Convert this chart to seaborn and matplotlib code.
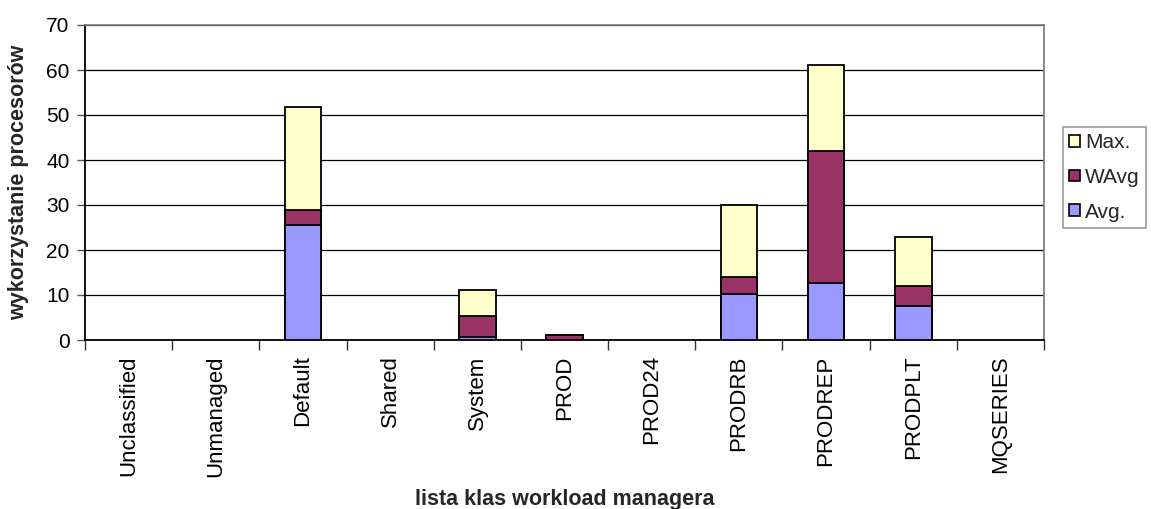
import matplotlib
matplotlib.use("Agg")
import matplotlib.pyplot as plt
import seaborn as sns
import pandas as pd
import numpy as np
from matplotlib.patches import Patch
from matplotlib.ticker import FixedLocator, NullFormatter

categories = ["Unclassified", "Unmanaged", "Default", "Shared", "System", "PROD",
              "PROD24", "PRODRB", "PRODREP", "PRODPLT", "MQSERIES"]
avg = [0, 0, 25.6, 0, 0.7, 0, 0, 10.3, 12.6, 7.6, 0]
wavg = [0, 0, 3.4, 0, 4.7, 1.2, 0, 3.8, 29.5, 4.3, 0]
maxv = [0, 0, 22.8, 0, 5.7, 0, 0, 15.8, 19.0, 11.1, 0]
colors = {"Avg.": "#9999FF", "WAvg": "#993366", "Max.": "#FFFFCC"}

sns.set_style("white")
plt.rcParams["font.family"] = ["Liberation Sans", "DejaVu Sans"]

df = pd.DataFrame({"cat": categories, "Avg.": avg, "WAvg": wavg, "Max.": maxv})
df["top_avg"] = df["Avg."]
df["top_wavg"] = df["Avg."] + df["WAvg"]
df["top_max"] = df["top_wavg"] + df["Max."]

W, H = 1151, 509
fig = plt.figure(figsize=(W / 100, H / 100), dpi=100)
L, R, T, B = 85, 1044, 25, 340
ax = fig.add_axes([L / W, 1 - B / H, (R - L) / W, (B - T) / H])

for col, name in [("top_max", "Max."), ("top_wavg", "WAvg"), ("top_avg", "Avg.")]:
    sns.barplot(data=df, x="cat", y=col, order=categories, color=colors[name],
                width=0.42, edgecolor="black", linewidth=1.3, ax=ax,
                saturation=1, errorbar=None, zorder=3)
for p in ax.patches:
    if p.get_height() <= 0:
        p.set_visible(False)

ax.set_ylim(0, 70)
ax.set_xlim(-0.5, len(categories) - 0.5)
ax.set_yticks(range(0, 71, 10))
ax.yaxis.grid(True, color="black", linewidth=0.9, zorder=0)
ax.set_axisbelow(True)

ax.tick_params(axis="y", labelsize=15, length=6, width=1, direction="out", left=True,
               pad=5, labelcolor="black", color="#555555")
ax.set_xticks(range(len(categories)))
ax.set_xticklabels(categories, rotation=90, fontsize=16)
ax.tick_params(axis="x", which="major", length=0, pad=11, labelcolor="black")
ax.xaxis.set_minor_locator(FixedLocator(np.arange(-0.5, len(categories), 1)))
ax.xaxis.set_minor_formatter(NullFormatter())
ax.tick_params(axis="x", which="minor", length=7, width=1, direction="out",
               bottom=True, color="#333333")

for s in ["left", "bottom"]:
    ax.spines[s].set_color("black")
    ax.spines[s].set_linewidth(1.3)
for s in ["top", "right"]:
    ax.spines[s].set_color("#808080")
    ax.spines[s].set_linewidth(1.3)

ax.set_xlabel("lista klas workload managera", fontsize=15.5, fontweight="bold")
ax.xaxis.set_label_coords(0.5, -(499 - B) / (B - T))
ax.xaxis.label.set_va("center")
ax.set_ylabel("wykorzystanie procesorów", fontsize=15.5, fontweight="bold")
ax.yaxis.set_label_coords(-(L - 18.5) / (R - L), 0.5)
ax.yaxis.label.set_va("center")

handles = [Patch(facecolor=colors[n], edgecolor="black", linewidth=1.2) for n in ["Max.", "WAvg", "Avg."]]
leg = fig.legend(handles, ["Max.", "WAvg", "Avg."], loc="upper left",
                 bbox_to_anchor=(1063 / W, 1 - 127 / H), frameon=True, fancybox=False,
                 edgecolor="#808080", fontsize=15, handlelength=0.5, handleheight=0.5,
                 handletextpad=0.25, borderpad=0.3, labelspacing=0.75, borderaxespad=0)
leg.get_frame().set_linewidth(1.2)

fig.savefig("out.png", dpi=100)
